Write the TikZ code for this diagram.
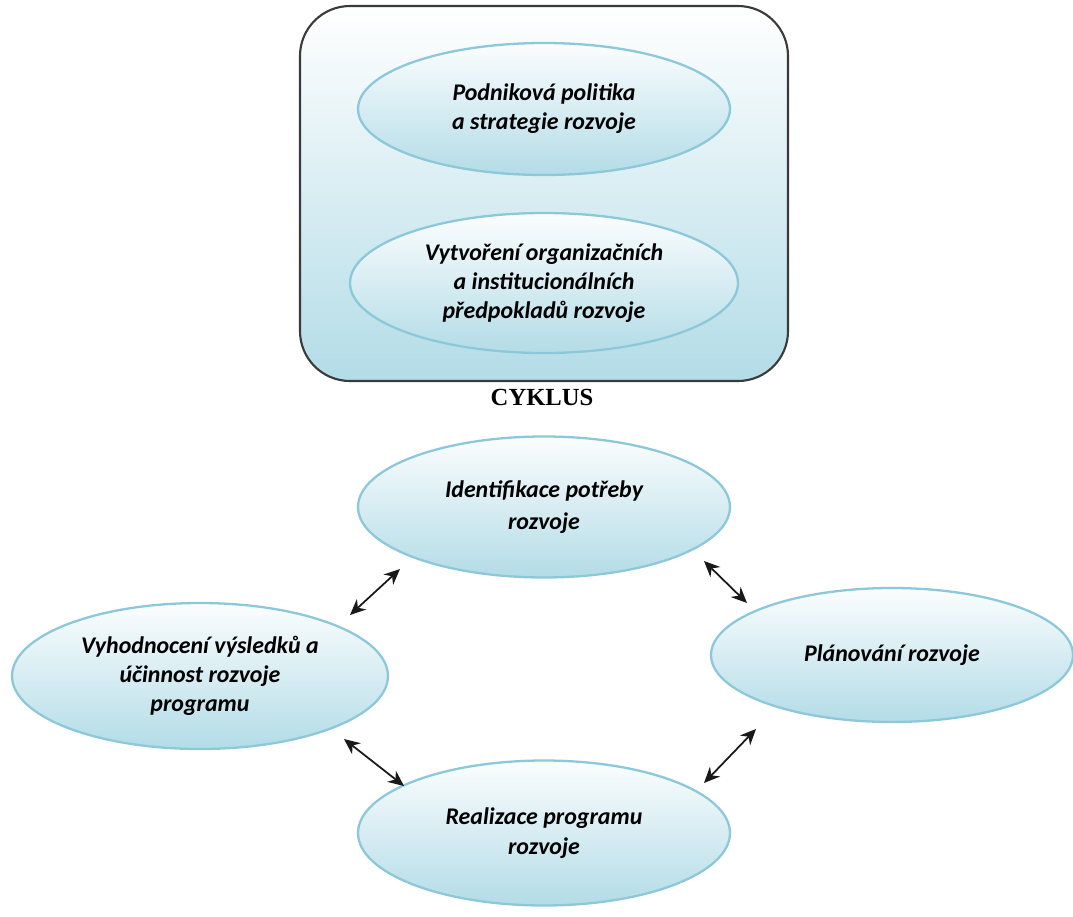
\documentclass[tikz,border=0pt]{standalone}
\usepackage{fontspec}
\setmainfont{Carlito}
\newfontfamily\cyklusfont{Liberation Serif}
\usetikzlibrary{shapes.geometric,arrows.meta,positioning}
\definecolor{cykBlue}{HTML}{B3DCE7}
\definecolor{cykLine}{HTML}{8CC8D9}
\definecolor{cykFrame}{HTML}{3A3A3A}
\newcommand{\CyklusPx}{0.02cm}

\tikzset{
  faze/.style={ellipse, draw=cykLine, line width=1.3pt, top color=white!95!cykBlue,
    bottom color=cykBlue, inner sep=0pt, align=center,
    font=\fontsize{13.6}{16.5}\selectfont\bfseries\itshape},
  vazba/.style={{Stealth[length=9pt,width=8pt]}-{Stealth[length=9pt,width=8pt]}, line width=1pt, black!90},
}

\begin{document}
\begin{tikzpicture}[x=\CyklusPx, y=-\CyklusPx]
		\useasboundingbox (0,0) rectangle (1073,917);
		% ramec s predpoklady
		\draw[cykFrame, line width=1.2pt, rounded corners=1cm, top color=white, bottom color=cykBlue]
			(300,6) rectangle (788,381);
		\node[faze, minimum width=372*\CyklusPx, minimum height=132*\CyklusPx] (politika) at (544,109)
			{Podniková politika\\a strategie rozvoje};
		\node[faze, minimum width=388*\CyklusPx, minimum height=140*\CyklusPx] (predpoklady) at (544,283)
			{Vytvoření organizačních\\a institucionálních\\předpokladů rozvoje};
		\node[font=\cyklusfont\bfseries\fontsize{14}{16}\selectfont] (cyklus) at (542,397) {CYKLUS};
		% cyklus
		\node[faze, minimum width=372*\CyklusPx, minimum height=141*\CyklusPx,
			font=\fontsize{13.6}{18.5}\selectfont\bfseries\itshape] (identifikace) at (544,507)
			{Identifikace potřeby\\rozvoje};
		\node[faze, minimum width=362*\CyklusPx, minimum height=134*\CyklusPx] (planovani) at (892,655)
			{Plánování rozvoje};
		\node[faze, minimum width=376*\CyklusPx, minimum height=146*\CyklusPx] (vyhodnoceni) at (200,676)
			{Vyhodnocení výsledků a\\účinnost rozvoje\\programu};
		\node[faze, minimum width=372*\CyklusPx, minimum height=145*\CyklusPx,
			font=\fontsize{13.6}{17.5}\selectfont\bfseries\itshape] (realizace) at (544,833)
			{Realizace programu\\rozvoje};
		% konce sipek
		\coordinate (vi1) at (350,615);
		\coordinate (vi2) at (400,569);
		\coordinate (ip1) at (704,561);
		\coordinate (ip2) at (747,603);
		\coordinate (vr1) at (344,739);
		\coordinate (vr2) at (404,786);
		\coordinate (rp1) at (704,783);
		\coordinate (rp2) at (756,729);
		\draw[vazba] (vi1) -- (vi2);
		\draw[vazba] (ip1) -- (ip2);
		\draw[vazba] (vr1) -- (vr2);
		\draw[vazba] (rp1) -- (rp2);
	\end{tikzpicture}
\end{document}
